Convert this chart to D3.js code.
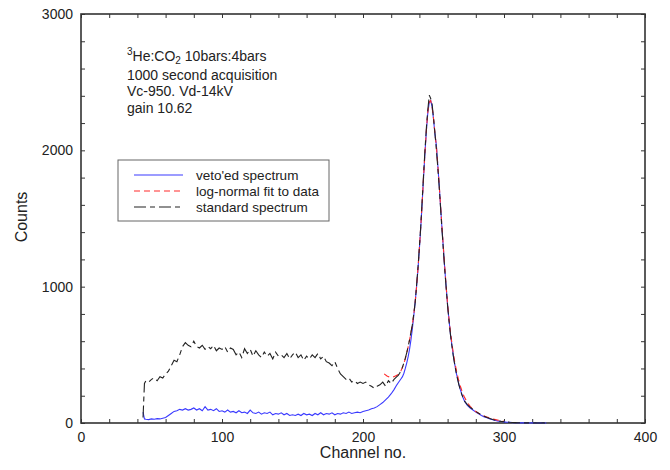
<!DOCTYPE html>
<html>
<head>
<meta charset="utf-8">
<script src="https://cdn.jsdelivr.net/npm/d3@7"></script>
<style>
  body { margin: 0; background: #fff; }
  svg { display: block; font-family: "Liberation Sans", Arial, sans-serif; }
</style>
</head>
<body>
<div id="chart"></div>
<script>
const WIDTH = 670;
const HEIGHT = 470;
const LEFT = 81;
const RIGHT = 645;
const TOP = 14;
const BOTTOM = 423;

// channel grid shared by the two measured spectra
const CHANNELS = [
  44, 45, 46, 48, 50, 52, 54, 56, 58, 60,
  62, 64, 66, 68, 70, 72, 74, 76, 78, 80,
  82, 84, 86, 88, 90, 92, 94, 96, 98, 100,
  102, 104, 106, 108, 110, 112, 114, 116, 118, 120,
  122, 124, 126, 128, 130, 132, 134, 136, 138, 140,
  142, 144, 146, 148, 150, 152, 154, 156, 158, 160,
  162, 164, 166, 168, 170, 172, 174, 176, 178, 180,
  182, 184, 186, 188, 190, 192, 194, 196, 198, 200,
  202, 204, 206, 208, 210, 212, 214, 216, 218, 220,
  222, 224, 225, 226, 227, 228, 229, 230, 231, 232,
  233, 234, 235, 236, 237, 238, 239, 240, 241, 242,
  243, 244, 245, 246, 247, 248, 249, 250, 251, 252,
  253, 254, 255, 256, 257, 258, 259, 260, 261, 262,
  263, 264, 265, 266, 267, 268, 269, 270, 271, 272,
  274, 276, 278, 280, 282, 284, 286, 288, 290, 292,
  294, 296, 298, 300, 302, 304, 306, 308, 310, 312,
  314, 316, 318, 320, 322, 324, 326, 328, 330
];

const STANDARD = [
  40, 290, 310, 300, 320, 330, 310, 340, 330, 360,
  380, 420, 460, 450, 500, 560, 590, 570, 560, 600,
  560, 550, 570, 540, 560, 545, 570, 530, 550, 540,
  560, 520, 550, 540, 500, 520, 480, 545, 510, 540,
  490, 530, 500, 480, 520, 490, 510, 470, 520, 490,
  500, 480, 510, 470, 500, 520, 480, 500, 460, 490,
  470, 500, 480, 510, 470, 490, 450, 440, 420, 450,
  400, 360, 340, 320, 330, 300, 310, 290, 300, 290,
  300, 280, 270, 255, 270, 280, 300, 270, 310, 290,
  320, 340, 350, 365, 385, 410, 440, 475, 515, 560,
  610, 665, 720, 800, 885, 1010, 1140, 1290, 1450, 1640,
  1830, 2010, 2170, 2300, 2405, 2380, 2340, 2240, 2130, 2010,
  1880, 1740, 1580, 1420, 1270, 1120, 990, 860, 750, 650,
  570, 495, 430, 375, 325, 280, 245, 210, 185, 160,
  135, 115, 100, 85, 72, 60, 50, 40, 33, 26,
  20, 16, 12, 9, 7, 5, 4, 3, 2, 2,
  1, 2, 1, 0, 1, 0, 0, 1, 0
];

const VETOED = [
  80, 30, 28, 25, 30, 28, 32, 30, 35, 40,
  55, 70, 85, 90, 100, 95, 105, 95, 100, 110,
  95, 105, 90, 120, 95, 100, 90, 105, 85, 90,
  80, 95, 80, 85, 75, 90, 75, 80, 70, 95,
  75, 70, 80, 65, 75, 70, 80, 60, 70, 65,
  75, 60, 70, 55, 60, 55, 65, 55, 70, 60,
  65, 55, 70, 60, 75, 60, 70, 65, 75, 60,
  70, 65, 75, 70, 80, 70, 75, 80, 75, 85,
  90, 95, 105, 110, 120, 135, 150, 170, 190, 215,
  245, 280, 295, 310, 325, 340, 365, 400, 440, 485,
  540, 610, 690, 785, 885, 1000, 1130, 1280, 1440, 1620,
  1810, 1990, 2150, 2280, 2350, 2365, 2320, 2230, 2120, 2040,
  1900, 1750, 1590, 1430, 1280, 1130, 995, 865, 755, 655,
  575, 500, 435, 375, 330, 285, 245, 215, 185, 160,
  130, 110, 95, 80, 68, 55, 45, 38, 30, 24,
  19, 14, 11, 8, 6, 5, 3, 3, 2, 1,
  2, 1, 0, 1, 0, 0, 1, 0, 0
];

// log-normal fit
const FIT_CHANNELS = [
  215, 217, 219, 221, 223, 225,
  226, 227, 228, 229, 230, 231, 232, 233, 234, 235,
  236, 237, 238, 239, 240, 241, 242, 243, 244, 245,
  246, 247, 248, 249, 250, 251, 252, 253, 254, 255,
  256, 257, 258, 259, 260, 261, 262, 263, 264, 265,
  266, 267, 268, 269, 270, 271, 272,
  274, 276, 278, 280, 282, 284, 286, 288, 290, 292,
  294, 296, 298, 300
];
const FIT = [
  360, 345, 335, 335, 345, 355,
  368, 385, 408, 438, 472, 512, 558, 608, 662, 722,
  795, 885, 1000, 1135, 1285, 1445, 1625, 1815, 1995, 2155,
  2285, 2355, 2365, 2320, 2235, 2125, 2035, 1900, 1755, 1595,
  1440, 1290, 1140, 1000, 870, 762, 668, 588, 515, 452,
  398, 350, 308, 272, 240, 212, 188,
  150, 122, 100, 84, 71, 60, 51, 43, 36, 30,
  25, 20, 16, 13
];

const X_MAJOR = [0, 100, 200, 300, 400];
const X_MINOR = d3.range(0, 401, 20);
const Y_MAJOR = [0, 1000, 2000, 3000];
const Y_MINOR = d3.range(0, 3001, 200);

const NOTES = ["1000 second acquisition", "Vc-950. Vd-14kV", "gain 10.62"];
const LEGEND = [
  { label: "veto'ed spectrum", color: "#3a3aff", dash: null },
  { label: "log-normal fit to data", color: "#ff2a2a", dash: "6,4" },
  { label: "standard spectrum", color: "#222", dash: "12,4,5,4" }
];

const INK = "#222";

const svg = d3.select("#chart").append("svg")
  .attr("width", WIDTH)
  .attr("height", HEIGHT);

const x = d3.scaleLinear().domain([0, 400]).range([LEFT, RIGHT]);
const y = d3.scaleLinear().domain([0, 3000]).range([BOTTOM, TOP]);

// axes, ticks pointing inward on all four sides
const fmtX = d => (X_MAJOR.includes(d) ? d : "");
const fmtY = d => (Y_MAJOR.includes(d) ? d : "");

const axes = [
  svg.append("g").attr("transform", `translate(0,${BOTTOM})`)
    .call(d3.axisBottom(x).tickValues(X_MINOR).tickFormat(fmtX).tickSize(-4).tickPadding(9)),
  svg.append("g").attr("transform", `translate(0,${TOP})`)
    .call(d3.axisTop(x).tickValues(X_MINOR).tickFormat("").tickSize(-4)),
  svg.append("g").attr("transform", `translate(${LEFT},0)`)
    .call(d3.axisLeft(y).tickValues(Y_MINOR).tickFormat(fmtY).tickSize(-4).tickPadding(8)),
  svg.append("g").attr("transform", `translate(${RIGHT},0)`)
    .call(d3.axisRight(y).tickValues(Y_MINOR).tickFormat("").tickSize(-4))
];
axes.forEach(g => {
  g.select(".domain").remove();
  g.selectAll(".tick line").attr("stroke", "#333").attr("stroke-width", 1);
  g.selectAll(".tick text")
    .attr("fill", INK)
    .style("font-size", "14px")
    .style("font-family", "'Liberation Sans', Arial, sans-serif");
});

svg.append("rect")
  .attr("x", LEFT).attr("y", TOP)
  .attr("width", RIGHT - LEFT).attr("height", BOTTOM - TOP)
  .attr("fill", "none")
  .attr("stroke", "#333")
  .attr("stroke-width", 1.6);

// series
const line = d3.line()
  .x(d => x(d[0]))
  .y(d => y(d[1]));

const plot = svg.append("g");

plot.append("path")
  .datum(d3.zip(CHANNELS, VETOED))
  .attr("d", line)
  .attr("fill", "none")
  .attr("stroke", LEGEND[0].color)
  .attr("stroke-width", 1.1);

plot.append("path")
  .datum(d3.zip(FIT_CHANNELS, FIT))
  .attr("d", line)
  .attr("fill", "none")
  .attr("stroke", LEGEND[1].color)
  .attr("stroke-width", 1.1)
  .attr("stroke-dasharray", LEGEND[1].dash);

plot.append("path")
  .datum(d3.zip(CHANNELS, STANDARD))
  .attr("d", line)
  .attr("fill", "none")
  .attr("stroke", LEGEND[2].color)
  .attr("stroke-width", 1.1)
  .attr("stroke-dasharray", LEGEND[2].dash);

// axis titles
svg.append("text")
  .attr("x", (LEFT + RIGHT) / 2)
  .attr("y", 458)
  .attr("text-anchor", "middle")
  .attr("fill", INK)
  .style("font-size", "16px")
  .text("Channel no.");

svg.append("text")
  .attr("transform", "translate(27,217) rotate(-90)")
  .attr("text-anchor", "middle")
  .attr("fill", INK)
  .style("font-size", "16px")
  .text("Counts");

// annotation
const title = svg.append("text")
  .attr("x", 127)
  .attr("y", 61)
  .attr("fill", INK)
  .style("font-size", "14px");
title.append("tspan").attr("dy", -6).style("font-size", "10px").text("3");
title.append("tspan").attr("dy", 6).text("He:CO");
title.append("tspan").attr("dy", 3).style("font-size", "10px").text("2");
title.append("tspan").attr("dy", -3).text("\u00a010bars:4bars");

svg.append("g").selectAll("text")
  .data(NOTES)
  .join("text")
  .attr("x", 127)
  .attr("y", (d, i) => 80 + i * 16.3)
  .attr("fill", INK)
  .style("font-size", "14px")
  .text(d => d);

// legend
const legend = svg.append("g");
legend.append("rect")
  .attr("x", 118).attr("y", 160)
  .attr("width", 211).attr("height", 61)
  .attr("fill", "#fff")
  .attr("stroke", "#666")
  .attr("stroke-width", 1);

const rows = legend.selectAll("g.row")
  .data(LEGEND)
  .join("g")
  .attr("class", "row")
  .attr("transform", (d, i) => `translate(0,${175 + i * 16})`);

rows.append("line")
  .attr("x1", 134).attr("x2", 183)
  .attr("stroke", d => d.color)
  .attr("stroke-width", 1.1)
  .attr("stroke-dasharray", d => d.dash);

rows.append("text")
  .attr("x", 196)
  .attr("dy", "0.35em")
  .attr("fill", INK)
  .style("font-size", "13.5px")
  .text(d => d.label);
</script>
</body>
</html>
